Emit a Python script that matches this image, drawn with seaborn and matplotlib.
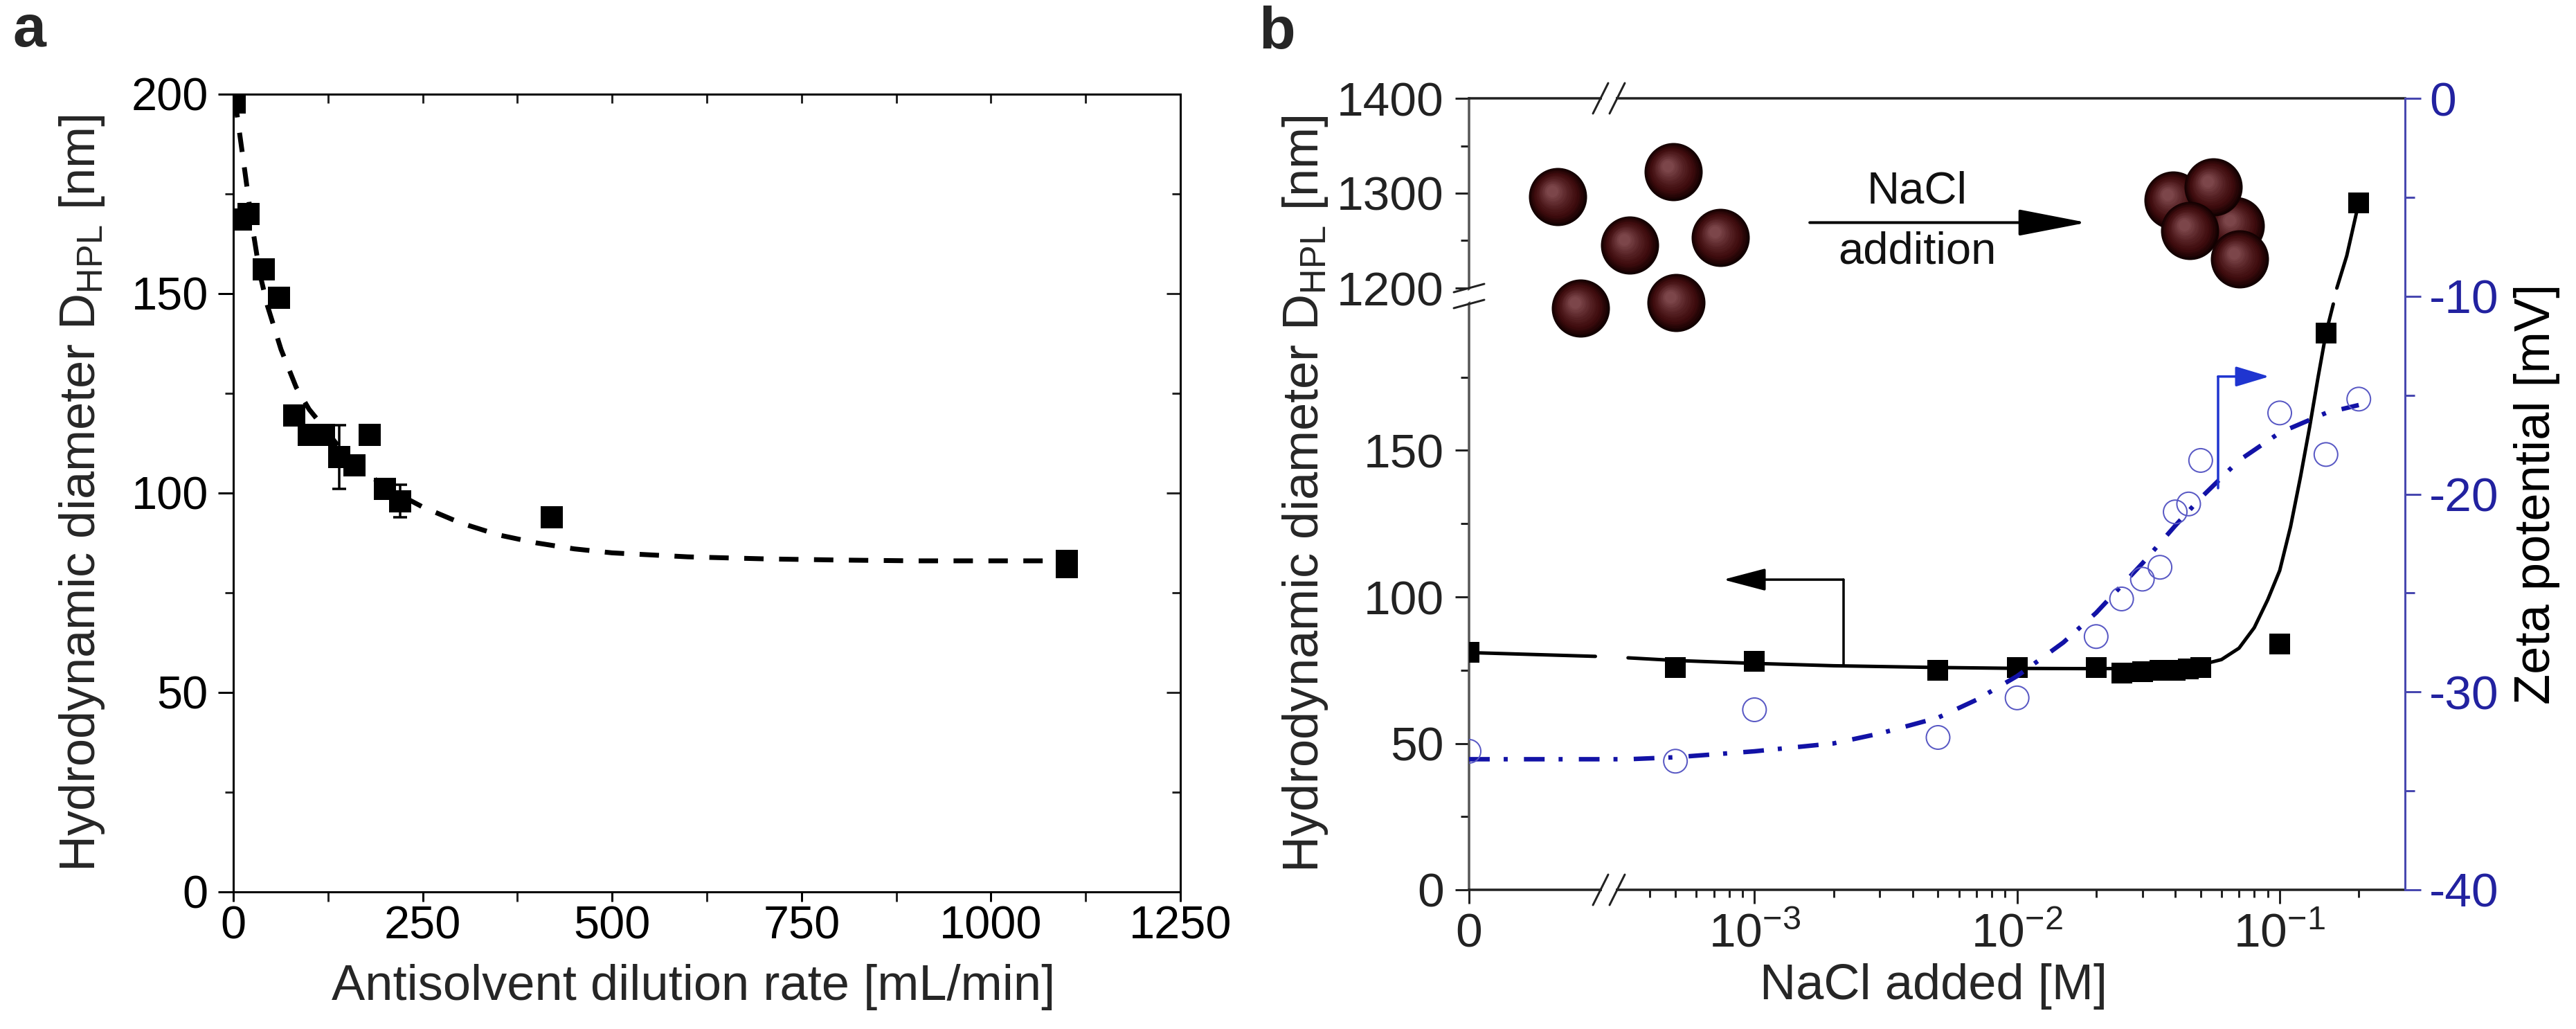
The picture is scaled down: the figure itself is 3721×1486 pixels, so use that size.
import numpy as np
import pandas as pd
import matplotlib
matplotlib.use("Agg")
import matplotlib.pyplot as plt
import seaborn as sns
from matplotlib.ticker import FixedLocator, NullFormatter, FixedFormatter
from matplotlib.lines import Line2D
from matplotlib.patches import Polygon
from matplotlib.colors import to_rgb

# ---------------- data: panel a ----------------
rate = [2, 10, 20, 40, 60, 80, 100, 120, 140, 160, 180, 200, 220, 420, 1100, 1100]
dhpl_a = [198, 168.5, 170, 156, 149, 119.5, 114.5, 114.5, 109, 107, 114.5, 101, 98, 94, 83, 81.5]
err_a = [0, 0, 0, 0, 0, 0, 0, 0, 8, 0, 0, 0, 4, 0, 0, 0]
fit_rate = [2, 7, 15, 25, 35, 45, 63, 83, 100, 115, 150, 200, 250, 300, 350, 400, 450, 500,
            600, 700, 800, 900, 1000, 1100]
fit_dhpl = [199, 192, 181, 167, 155, 147, 136, 126.5, 121, 117.5, 109, 101.5, 96.5, 92.5, 89.5,
            87.5, 86, 85, 84, 83.5, 83.2, 83, 83, 83]
a_xticks = [0, 250, 500, 750, 1000, 1250]
a_xminor = [125, 375, 625, 875, 1125]
a_yticks = [0, 50, 100, 150, 200]
a_yminor = [25, 75, 125, 175]

# ---------------- data: panel b ----------------
nacl = [0, 5e-4, 1e-3, 5e-3, 1e-2, 2e-2, 2.5e-2, 3e-2, 3.5e-2, 4e-2, 4.5e-2, 5e-2, 1e-1, 1.5e-1, 2e-1]
dhpl_b = [81, 76, 78, 75, 76, 76, 74, 74.5, 75, 75, 75.5, 76, 84, 190, 1290]
zeta = [-33, -33.5, -30.9, -32.3, -30.3, -27.2, -25.3, -24.3, -23.7, -20.9, -20.5, -18.3,
        -15.9, -18.0, -15.2]
fitD_x0 = [0, 2.6e-4]
fitD_y0 = [81, 79.7]
fitD_x1 = [3.3e-4, 5e-4, 1e-3, 2e-3, 5e-3, 1e-2, 2e-2, 3e-2, 4e-2, 5e-2, 6e-2, 7e-2, 8e-2, 9e-2,
           0.1, 0.11, 0.12, 0.13, 0.14, 0.15, 0.16]
fitD_y1 = [79.2, 78.3, 77.3, 76.5, 75.9, 75.6, 75.5, 75.6, 75.9, 76.8, 78.6, 82.5, 89.5, 99,
           109, 124, 141, 158, 175, 190, 200]
fitD_x2 = [0.165, 0.18, 0.2]
fitD_y2 = [1200, 1234, 1290]
fitZ_x = [0, 2.6e-4, 3.3e-4, 5e-4, 1e-3, 2e-3, 3e-3, 5e-3, 7e-3, 1e-2, 1.5e-2, 2e-2, 3e-2, 4e-2,
          5e-2, 7e-2, 0.1, 0.15, 0.2]
fitZ_y = [-33.4, -33.4, -33.4, -33.3, -33.0, -32.6, -32.1, -31.3, -30.4, -29.2, -27.5, -26.0,
          -23.5, -21.6, -20.2, -18.3, -16.9, -15.9, -15.5]
b_xticks = [0, 1e-3, 1e-2, 1e-1]
b_xticklabels = ["0", r"$10^{-3}$", r"$10^{-2}$", r"$10^{-1}$"]
b_yticks = [0, 50, 100, 150, 1200, 1300, 1400]
b_yminor = [25, 75, 125, 175, 1250, 1350]
z_yticks = [0, -10, -20, -30, -40]
z_yminor = [-5, -15, -25, -35]

# ---------------- style ----------------
sns.set_theme(style="ticks")
FONT = ["Liberation Sans Narrow", "Liberation Sans", "DejaVu Sans"]
plt.rcParams["font.family"] = FONT
plt.rcParams["mathtext.fontset"] = "custom"
plt.rcParams["mathtext.rm"] = "Liberation Sans Narrow"
plt.rcParams["mathtext.it"] = "Liberation Sans Narrow:italic"
plt.rcParams["mathtext.bf"] = "Liberation Sans Narrow:bold"
plt.rcParams["mathtext.default"] = "regular"
plt.rcParams["axes.unicode_minus"] = False

PX = 0.72  # points per pixel at dpi 100
BLUE_LINE = "#1212a6"
BLUE_CIRC = "#5858c4"
BLUE_AXIS = "#4848b0"
BLUE_TEXT = "#2222a0"
BLUE_ARROW = "#1f35d0"

fig = plt.figure(figsize=(37.21, 14.86), dpi=100)
fig.patch.set_facecolor("white")

# ================= panel a =================
ax_a = fig.add_axes([337 / 3721, 1 - 1288 / 1486, 1368 / 3721, 1152 / 1486])
ax_a.set_facecolor("white")
sns.lineplot(x=fit_rate, y=fit_dhpl, sort=False, estimator=None, ax=ax_a, color="black",
             lw=7 * PX, linestyle=(0, (4.0, 3.2)), dash_capstyle="butt")
ea = [(x, y, e) for x, y, e in zip(rate, dhpl_a, err_a) if e > 0]
ax_a.errorbar([v[0] for v in ea], [v[1] for v in ea], yerr=[v[2] for v in ea], fmt="none",
              ecolor="black", elinewidth=3.5 * PX, capsize=10 * PX, capthick=3.5 * PX, zorder=3)
sns.scatterplot(x=rate, y=dhpl_a, ax=ax_a, marker="s", s=(32 * PX) ** 2, color="black",
                edgecolor="black", linewidth=0, zorder=4)
ax_a.set_xlim(0, 1250)
ax_a.set_ylim(0, 200)
ax_a.xaxis.set_major_locator(FixedLocator(a_xticks))
ax_a.xaxis.set_minor_locator(FixedLocator(a_xminor))
ax_a.yaxis.set_major_locator(FixedLocator(a_yticks))
ax_a.yaxis.set_minor_locator(FixedLocator(a_yminor))
for s in ax_a.spines.values():
    s.set_linewidth(3 * PX)
    s.set_color("black")
ax_a.tick_params(axis="y", which="major", direction="out", length=22 * PX, width=3 * PX,
                 labelsize=48, pad=14 * PX, colors="black")
ax_a.tick_params(axis="y", which="minor", direction="out", length=12 * PX, width=3 * PX)
ax_a.tick_params(axis="x", which="major", direction="out", length=14 * PX, width=3 * PX,
                 labelsize=48, pad=6 * PX, colors="black")
ax_a.tick_params(axis="x", which="minor", direction="out", length=14 * PX, width=3 * PX)
sec_r = ax_a.secondary_yaxis("right")
sec_r.yaxis.set_major_locator(FixedLocator(a_yticks))
sec_r.yaxis.set_minor_locator(FixedLocator(a_yminor))
sec_r.tick_params(axis="y", which="major", direction="in", length=20 * PX, width=3 * PX,
                  labelright=False)
sec_r.tick_params(axis="y", which="minor", direction="in", length=12 * PX, width=3 * PX)
sec_r.spines["right"].set_linewidth(3 * PX)
sec_t = ax_a.secondary_xaxis("top")
sec_t.xaxis.set_major_locator(FixedLocator(a_xticks))
sec_t.xaxis.set_minor_locator(FixedLocator(a_xminor))
sec_t.tick_params(axis="x", which="both", direction="in", length=13 * PX, width=3 * PX,
                  labeltop=False)
sec_t.spines["top"].set_linewidth(3 * PX)
ax_a.set_xlabel("Antisolvent dilution rate [mL/min]", fontsize=52)
ax_a.xaxis.set_label_coords(0.486, -0.119)
ax_a.xaxis.label.set_va("center")
ax_a.set_ylabel(r"Hydrodynamic diameter D$_{HPL}$ [nm]", fontsize=52)
ax_a.yaxis.set_label_coords(-0.160, 0.5)
ax_a.yaxis.label.set_va("center")

# ================= panel b =================
P0 = -4.087
THR = 3.2e-4
LT = np.log10(THR)


def xf(x):
    x = np.asarray(x, dtype=float)
    lin = P0 + x / THR * (LT - P0)
    lg = np.log10(np.maximum(x, THR))
    return np.where(x < THR, lin, lg)


def xi(p):
    p = np.asarray(p, dtype=float)
    lin = (p - P0) / (LT - P0) * THR
    lg = np.power(10.0, np.clip(p, -300, 300))
    return np.where(p < LT, lin, lg)


G = 23 / 4.23
K = 1.37 / 4.23


def yf(y):
    y = np.asarray(y, dtype=float)
    return np.where(y <= 200, y, np.where(y < 1200, 200 + (y - 200) * G / 1000,
                                          200 + G + (y - 1200) * K))


def yi(p):
    p = np.asarray(p, dtype=float)
    return np.where(p <= 200, p, np.where(p < 200 + G, 200 + (p - 200) * 1000 / G,
                                          1200 + (p - 200 - G) / K))


ax_b = fig.add_axes([2122 / 3721, 1 - 1285 / 1486, 1352 / 3721, 1143 / 1486])
ax_b.set_facecolor("none")
ax_b.set_xscale("function", functions=(xf, xi))
ax_b.set_yscale("function", functions=(yf, yi))
ax_z = ax_b.twinx()

for xs, ys in [(fitD_x0, fitD_y0), (fitD_x1, fitD_y1), (fitD_x2, fitD_y2)]:
    sns.lineplot(x=xs, y=ys, sort=False, estimator=None, ax=ax_b, color="black",
                 lw=5 * PX, zorder=3)
sns.scatterplot(x=nacl, y=dhpl_b, ax=ax_b, marker="s", s=(30 * PX) ** 2, color="black",
                edgecolor="black", linewidth=0, zorder=4)
ax_b.set_xlim(0, 0.3)
ax_b.set_ylim(0, 1400)

sns.lineplot(x=fitZ_x, y=fitZ_y, sort=False, estimator=None, ax=ax_z, color=BLUE_LINE,
             lw=6.5 * PX, linestyle=(0, (4.6, 3.1, 0.9, 3.6)), dash_capstyle="butt", zorder=3)
sns.scatterplot(x=nacl, y=zeta, ax=ax_z, marker="o", s=(34 * PX) ** 2, fc="none",
                ec=BLUE_CIRC, linewidth=2.0 * PX, zorder=4)
ax_z.set_ylim(-40, 0)
ax_z.set_xlim(0, 0.3)

# ticks panel b
b_xminor = [k * 10.0 ** e for e in (-4, -3, -2, -1) for k in range(2, 10)
            if THR < k * 10.0 ** e <= 0.3]
ax_b.xaxis.set_major_locator(FixedLocator(b_xticks))
ax_b.xaxis.set_major_formatter(FixedFormatter(b_xticklabels))
ax_b.xaxis.set_minor_locator(FixedLocator(b_xminor))
ax_b.xaxis.set_minor_formatter(NullFormatter())
ax_b.yaxis.set_major_locator(FixedLocator(b_yticks))
ax_b.yaxis.set_major_formatter(FixedFormatter([str(v) for v in b_yticks]))
ax_b.yaxis.set_minor_locator(FixedLocator(b_yminor))
ax_b.yaxis.set_minor_formatter(NullFormatter())
ax_b.tick_params(axis="x", which="major", direction="out", length=20 * PX, width=3 * PX,
                 labelsize=50, pad=12 * PX, colors="#222222", top=False)
ax_b.tick_params(axis="x", which="minor", direction="out", length=11 * PX, width=3 * PX,
                 colors="#222222", top=False)
ax_b.tick_params(axis="y", which="major", direction="out", length=20 * PX, width=3 * PX,
                 labelsize=50, pad=16 * PX, colors="#222222", right=False)
ax_b.tick_params(axis="y", which="minor", direction="out", length=12 * PX, width=3 * PX,
                 colors="#222222", right=False)
ax_z.yaxis.set_major_locator(FixedLocator(z_yticks))
ax_z.yaxis.set_major_formatter(FixedFormatter([str(v) for v in z_yticks]))
ax_z.yaxis.set_minor_locator(FixedLocator(z_yminor))
ax_z.yaxis.set_minor_formatter(NullFormatter())
ax_z.tick_params(axis="y", which="major", direction="out", length=23 * PX, width=3 * PX,
                 labelsize=50, pad=12 * PX, color=BLUE_AXIS, labelcolor=BLUE_TEXT)
ax_z.tick_params(axis="y", which="minor", direction="out", length=14 * PX, width=3 * PX,
                 color=BLUE_AXIS)
ax_z.tick_params(axis="x", which="both", bottom=False, top=False, labelbottom=False)

for name in ["left", "right", "top", "bottom"]:
    ax_b.spines[name].set_linewidth(3.5 * PX)
    ax_b.spines[name].set_color("#222222")
ax_b.spines["left"].set_color("#555555")
ax_b.spines["right"].set_visible(False)
for name in ["left", "top", "bottom"]:
    ax_z.spines[name].set_visible(False)
ax_z.spines["right"].set_color(BLUE_AXIS)
ax_z.spines["right"].set_linewidth(3 * PX)

ax_b.set_xlabel("NaCl added [M]", fontsize=52)
ax_b.xaxis.set_label_coords(0.496, -0.122)
ax_b.xaxis.label.set_va("center")
ax_b.set_ylabel(r"Hydrodynamic diameter D$_{HPL}$ [nm]", fontsize=52)
ax_b.yaxis.set_label_coords(-0.1746, 0.5)
ax_b.yaxis.label.set_va("center")
ax_z.set_ylabel("Zeta potential [mV]", fontsize=52, color="black")
ax_z.yaxis.set_label_coords(1.141, 0.5)
ax_z.yaxis.label.set_va("center")

# axis break marks
W_AX, H_AX = 1352.0, 1143.0
for yb in (0.0, 1.0):
    xs1, xs2 = (2312 - 2122) / W_AX, (2336 - 2122) / W_AX
    dx, dy = 11 / W_AX, 22 / H_AX
    gap = Polygon([(xs1 + 2 / W_AX, yb - 8 / H_AX), (xs2 - 2 / W_AX, yb - 8 / H_AX),
                   (xs2 - 2 / W_AX, yb + 8 / H_AX), (xs1 + 2 / W_AX, yb + 8 / H_AX)],
                  closed=True, transform=ax_b.transAxes, facecolor="white", edgecolor="none",
                  clip_on=False, zorder=9)
    ax_b.add_patch(gap)
    for xc in (xs1, xs2):
        ax_b.add_line(Line2D([xc - dx, xc + dx], [yb - dy, yb + dy], transform=ax_b.transAxes,
                             color="#222222", lw=3 * PX, clip_on=False, zorder=10))
yb1 = 1 - (416 - 142) / H_AX
yb2 = 1 - (439 - 142) / H_AX
gx0, gx1 = -22 / W_AX, 22 / W_AX
sl = 6 / H_AX
ax_b.add_patch(Polygon([(gx0 + 12 / W_AX, yb2 - sl + 3 / H_AX), (gx1 - 12 / W_AX, yb2 + sl + 3 / H_AX),
                        (gx1 - 12 / W_AX, yb1 + sl - 3 / H_AX), (gx0 + 12 / W_AX, yb1 - sl - 3 / H_AX)],
                       closed=True, transform=ax_b.transAxes, facecolor="white",
                       edgecolor="none", clip_on=False, zorder=9))
for yc in (yb1, yb2):
    ax_b.add_line(Line2D([gx0, gx1], [yc - sl, yc + sl], transform=ax_b.transAxes,
                         color="#222222", lw=3 * PX, clip_on=False, zorder=10))

# annotation arrows
arr_k_x, arr_k_tip, arr_k_y0, arr_k_y1 = 2.18e-3, 7.6e-4, 76.8, 105.9
ax_b.plot([arr_k_x, arr_k_x], [arr_k_y0, arr_k_y1], color="black", lw=3.5 * PX, zorder=5)
ax_b.annotate("", xy=(arr_k_tip, arr_k_y1), xytext=(arr_k_x, arr_k_y1),
              arrowprops=dict(arrowstyle="-|>,head_length=38,head_width=10", color="black",
                              lw=3.5 * PX, shrinkA=0, shrinkB=0, mutation_scale=1), zorder=5)
arr_b_x, arr_b_tip, arr_b_y0, arr_b_y1 = 0.0582, 0.0913, -19.7, -14.06
ax_z.plot([arr_b_x, arr_b_x], [arr_b_y0, arr_b_y1], color=BLUE_ARROW, lw=3.5 * PX, zorder=5)
ax_z.annotate("", xy=(arr_b_tip, arr_b_y1), xytext=(arr_b_x, arr_b_y1),
              arrowprops=dict(arrowstyle="-|>,head_length=30,head_width=9", color=BLUE_ARROW,
                              lw=3.5 * PX, shrinkA=0, shrinkB=0, mutation_scale=1), zorder=5)

# inset illustration
ax_z.annotate("", xy=(0.660, 0.843), xytext=(0.364, 0.843), xycoords="axes fraction",
              arrowprops=dict(arrowstyle="-|>,head_length=62,head_width=12", color="black",
                              lw=4 * PX, shrinkA=0, shrinkB=0, mutation_scale=1))
ax_z.text(0.479, 0.882, "NaCl", transform=ax_z.transAxes, ha="center", va="center",
          fontsize=47, color="#111111")
ax_z.text(0.479, 0.806, "addition", transform=ax_z.transAxes, ha="center", va="center",
          fontsize=47, color="#111111")

sphere_single = [(0.0947, 0.8758), (0.2182, 0.9073), (0.1716, 0.8145), (0.2685, 0.8241),
                 (0.1191, 0.7349), (0.2212, 0.7419)]
sphere_cluster = [(0.7522, 0.8714), (0.8188, 0.8390), (0.7951, 0.8880), (0.7700, 0.8329),
                  (0.8232, 0.7970)]
edge_c = np.array(to_rgb("#120101"))
mid_c = np.array(to_rgb("#3e0b0d"))
hi_c = np.array(to_rgb("#7c464a"))
W_PT, H_PT = W_AX * PX, H_AX * PX
D_PT = 84 * PX


def draw_sphere(ax, cx, cy, zo):
    n = 16
    for i in range(n):
        f = i / (n - 1)
        d = D_PT * (1 - 0.8 * f)
        if f < 0.3:
            col = edge_c + (mid_c - edge_c) * (f / 0.3)
        else:
            col = mid_c + (hi_c - mid_c) * ((f - 0.3) / 0.7) ** 1.2
        ox = -0.10 * D_PT * f / W_PT
        oy = 0.10 * D_PT * f / H_PT
        ax.scatter([cx + ox], [cy + oy], s=d ** 2, color=[tuple(col)], marker="o",
                   linewidths=0, transform=ax.transAxes, zorder=zo + f * 0.5, clip_on=False)


for k, (cx, cy) in enumerate(sphere_single + sphere_cluster):
    draw_sphere(ax_z, cx, cy, 6 + k)

fig.text(42 / 3721, 1 - 45 / 1486, "a", fontsize=62, fontweight="bold", ha="center",
         va="center", family=["Liberation Sans", "DejaVu Sans"])
fig.text(1845 / 3721, 1 - 48 / 1486, "b", fontsize=62, fontweight="bold", ha="center",
         va="center", family=["Liberation Sans", "DejaVu Sans"])

fig.savefig("out.png", dpi=100, facecolor="white")
